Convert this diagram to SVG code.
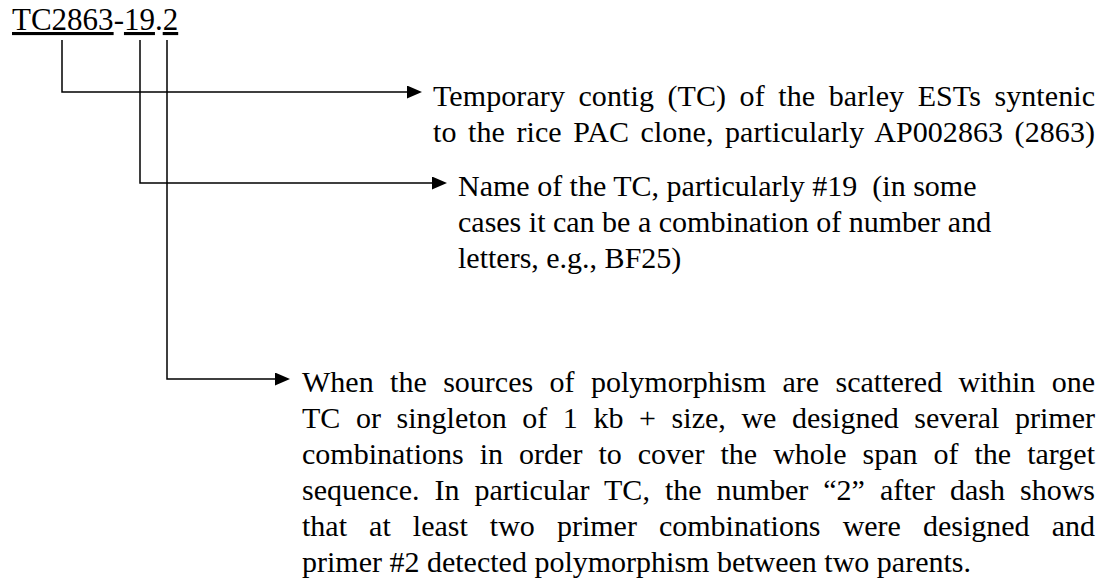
<svg xmlns="http://www.w3.org/2000/svg" width="1106" height="580" viewBox="0 0 1106 580">
  <style>
    text { font-family: "Liberation Serif", "Times New Roman", serif; fill: #000; }
    .title { font-size: 31px; }
    .body { font-size: 30px; }
    .u { text-decoration: underline; }
    .wire { fill: none; stroke: #000; stroke-width: 1.5; }
  </style>
  <defs>
    <marker id="arrow" markerUnits="userSpaceOnUse" markerWidth="16" markerHeight="14" refX="0" refY="6.5" orient="auto">
      <path d="M0,0 L15,6.5 L0,13 z" fill="#000"/>
    </marker>
  </defs>

  <rect width="1106" height="580" fill="#fff"/>

  <!-- code being explained -->
  <g id="code">
    <text class="title" x="12" y="30"><tspan class="u">TC2863</tspan>-<tspan class="u">19</tspan>.<tspan class="u">2</tspan></text>
  </g>

  <!-- bracket connectors from each part of the code -->
  <g id="connectors">
    <path class="wire" d="M62,40 V92 H407" marker-end="url(#arrow)"/>
    <path class="wire" d="M140,40 V183 H432" marker-end="url(#arrow)"/>
    <path class="wire" d="M167,40 V379 H275" marker-end="url(#arrow)"/>
  </g>

  <g id="note-tc">
    <text class="body" x="433" y="106" word-spacing="5.9" textLength="662" lengthAdjust="spacing">Temporary contig (TC) of the barley ESTs syntenic</text>
    <text class="body" x="433" y="142" word-spacing="3.9" textLength="662" lengthAdjust="spacing">to the rice PAC clone, particularly AP002863 (2863)</text>
  </g>

  <g id="note-name">
    <text class="body" x="458" y="196" xml:space="preserve">Name of the TC, particularly #19  (in some</text>
    <text class="body" x="458" y="232">cases it can be a combination of number and</text>
    <text class="body" x="458" y="268">letters, e.g., BF25)</text>
  </g>

  <g id="note-primer">
    <text class="body" x="302" y="392" word-spacing="8.9" textLength="793" lengthAdjust="spacing">When the sources of polymorphism are scattered within one</text>
    <text class="body" x="302" y="428" word-spacing="8.1" textLength="793" lengthAdjust="spacing">TC or singleton of 1 kb + size, we designed several primer</text>
    <text class="body" x="302" y="464" word-spacing="8.5" textLength="793" lengthAdjust="spacing">combinations in order to cover the whole span of the target</text>
    <text class="body" x="302" y="500" word-spacing="7.5" textLength="793" lengthAdjust="spacing">sequence. In particular TC, the number “2” after dash shows</text>
    <text class="body" x="302" y="536" word-spacing="14.6" textLength="793" lengthAdjust="spacing">that at least two primer combinations were designed and</text>
    <text class="body" x="302" y="572">primer #2 detected polymorphism between two parents.</text>
  </g>
</svg>
